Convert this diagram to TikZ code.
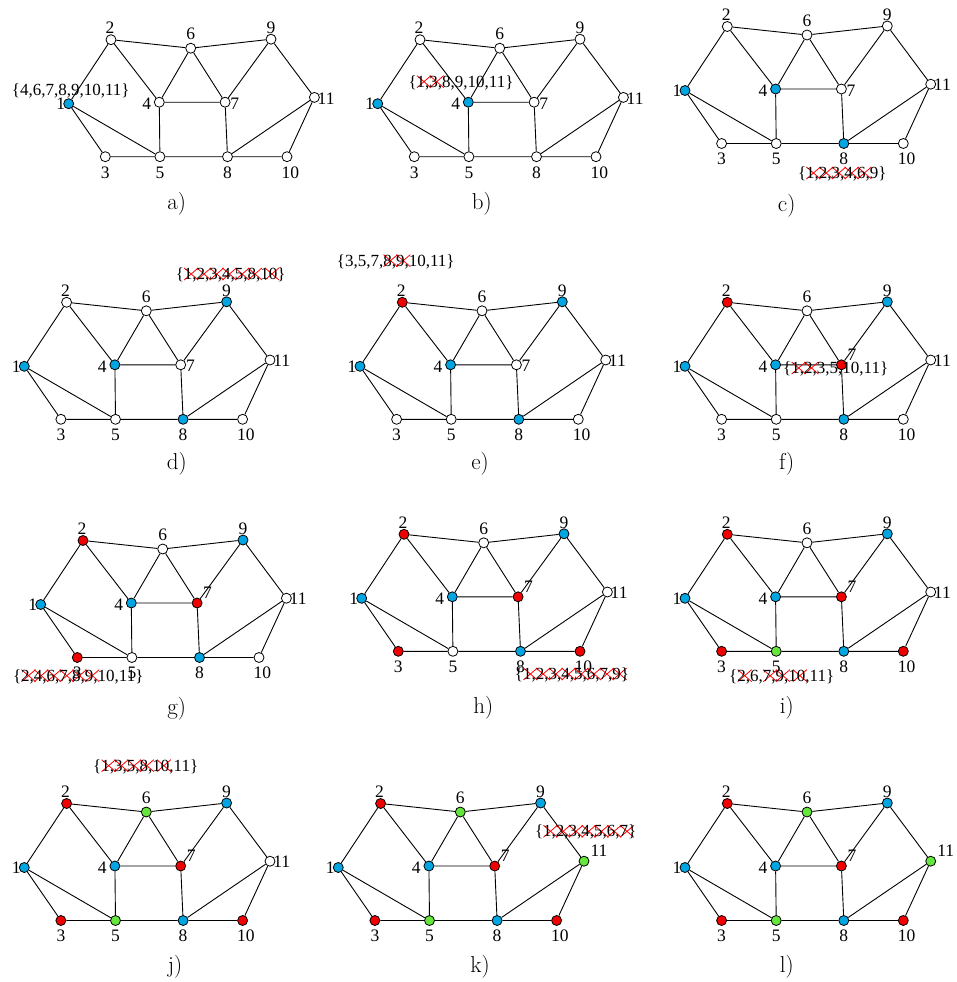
\documentclass[tikz,border=0pt]{standalone}
\usepackage{fontspec}
\newfontfamily\tnr{Liberation Serif}
\definecolor{bl}{RGB}{0,165,225}
\definecolor{rd}{RGB}{240,0,0}
\definecolor{gr}{RGB}{100,230,60}
\newsavebox\xobox
\newlength\xow
\newlength\xoh
\newcommand\xo[1]{\sbox\xobox{#1}\setlength\xow{\wd\xobox}\setlength\xoh{\ht\xobox}%
\rlap{\tikz[baseline=0pt]{\useasboundingbox (0pt,0pt);
\draw[red,line width=0.8pt] (0.5*\xow-4pt,0.5*\xoh-6pt) -- (0.5*\xow+10pt,0.5*\xoh+6pt)
 (0.5*\xow-4pt,0.5*\xoh+6pt) -- (0.5*\xow+10pt,0.5*\xoh-6pt);}}\usebox\xobox}
\newcommand\panel[6]{%
\begin{scope}[shift={(#2,#3)}]
 \foreach \c [count=\i] in {#4} {
   \pgfmathsetmacro\px{{0,42.3,36.6,90.6,91.2,122,156.4,158.8,202.3,218.3,245.7}[\i-1]}
   \pgfmathsetmacro\py{{0,-64,53,-1.5,53,-55.5,-1.5,53,-64.5,53,-6.3}[\i-1]}
   \node[vtx,fill=\c] (#1-\i) at (\px,\py) {};
 }
 \foreach \i/\dx/\dy in {1/-8/0.5,2/-1/-12,3/0/15.7,4/-12.6/1.5,5/0/15.7,6/0/-14.5,8/0/15.7,9/0/-11.5,10/3.3/15.7}
   \node[lab] (#1-l\i) at ([shift={(\dx,\dy)}]#1-\i.center) {\i};
 \node[lab] (#1-l7) at ([shift={(#5)}]#1-7.center) {7};
 \node[lab] (#1-l11) at ([shift={(#6)}]#1-11.center) {11};
 \draw[edgeline] (#1-1) -- (#1-2) (#1-1) -- (#1-3) (#1-1) -- (#1-5) (#1-2) -- (#1-6) (#1-2) -- (#1-4)
   (#1-6) -- (#1-9) (#1-6) -- (#1-4) (#1-6) -- (#1-7) (#1-4) -- (#1-7) (#1-4) -- (#1-5)
   (#1-7) -- (#1-8) (#1-7) -- (#1-9) (#1-9) -- (#1-11) (#1-11) -- (#1-8) (#1-11) -- (#1-10)
   (#1-3) -- (#1-5) (#1-5) -- (#1-8) (#1-8) -- (#1-10);
\end{scope}}
\begin{document}
\begin{tikzpicture}[x=1pt,y=-1pt,
  vtx/.style={circle,draw=black,line width=0.8pt,minimum size=10pt,inner sep=0pt},
  lab/.style={font=\tnr\fontsize{17.5}{17.5}\selectfont,inner sep=0pt},
  edgeline/.style={line width=0.9pt,black},
  setl/.style={font=\tnr\fontsize{17}{17}\selectfont,inner sep=0pt},
  captext/.style={font=\fontsize{23}{23}\selectfont,inner sep=0pt}]
\useasboundingbox (0,0) rectangle (956,982);
\panel{a}{68.7}{103.7}{bl,white,white,white,white,white,white,white,white,white,white}{9.7,1.3}{11.7,1}
\panel{b}{377.7}{103.7}{bl,white,white,bl,white,white,white,white,white,white,white}{9.7,1.3}{11.7,1}
\panel{c}{685}{90.5}{bl,white,white,bl,white,white,white,bl,white,white,white}{9.7,1.3}{11.7,1}
\panel{d}{24.3}{366.3}{bl,white,white,bl,white,white,white,bl,bl,white,white}{9.7,1.3}{11.7,1}
\panel{e}{360}{366.3}{bl,rd,white,bl,white,white,white,bl,bl,white,white}{9.7,1.3}{11.7,1}
\panel{f}{685}{366.3}{bl,rd,white,bl,white,white,rd,bl,bl,white,white}{10.5,-10}{11.7,1}
\panel{g}{40.7}{604.5}{bl,rd,rd,bl,white,white,rd,bl,bl,white,white}{10.5,-10}{11.7,1}
\panel{h}{361.7}{598.3}{bl,rd,rd,bl,white,white,rd,bl,bl,rd,white}{10.5,-10}{11.7,1}
\panel{i}{685}{598.3}{bl,rd,rd,bl,gr,white,rd,bl,bl,rd,white}{10.5,-10}{11.7,1}
\panel{j}{24.3}{867.5}{bl,rd,rd,bl,gr,gr,rd,bl,bl,rd,white}{10.5,-10}{11.7,1}
\panel{k}{338.3}{867.5}{bl,rd,rd,bl,gr,gr,rd,bl,bl,rd,gr}{10.5,-10}{15,-10}
\panel{l}{685}{867.5}{bl,rd,rd,bl,gr,gr,rd,bl,bl,rd,gr}{10.5,-10}{15,-10}
% set labels
\node[setl] (sa) at (70.7,90.7) {\{4,6,7,8,9,10,11\}};
\node[setl] (sb) at (461,82.7) {\{\xo{1},\xo{3},8,9,10,11\}};
\node[setl] (sc) at (842.3,174) {\{\xo{1},\xo{2},\xo{3},\xo{4},\xo{6},9\}};
\node[setl] (sd) at (230.7,275) {\{\xo{1},\xo{2},\xo{3},\xo{4},\xo{5},\xo{8},\xo{10}\}};
\node[setl] (se) at (395.7,261.7) {\{3,5,7,\xo{8},\xo{9},10,11\}};
\node[setl] (sf) at (835.7,369) {\{\xo{1},\xo{2},3,5,10,11\}};
\node[setl] (sg) at (78.3,676.7) {\{\xo{2},\xo{4},\xo{6},\xo{7},\xo{8},\xo{9},10,11\}};
\node[setl] (sh) at (572,675) {\{\xo{1},\xo{2},\xo{3},\xo{4},\xo{5},\xo{6},\xo{7},\xo{9}\}};
\node[setl] (si) at (781.7,676.7) {\{\xo{2},6,\xo{7},\xo{9},\xo{10},11\}};
\node[setl] (sj) at (145.7,766.7) {\{\xo{1},\xo{3},\xo{5},\xo{8},\xo{10},11\}};
\node[setl] (sk) at (585.7,832.3) {\{\xo{1},\xo{2},\xo{3},\xo{4},\xo{5},\xo{6},\xo{7}\}};
% captions
\node[captext] (ca) at (176.7,204) {a)};
\node[captext] (cb) at (481.7,204) {b)};
\node[captext] (cc) at (786.7,206) {c)};
\node[captext] (cd) at (176.7,464) {d)};
\node[captext] (ce) at (480,464) {e)};
\node[captext] (cf) at (786.7,464) {f)};
\node[captext] (cg) at (176.7,709) {g)};
\node[captext] (ch) at (483.3,708) {h)};
\node[captext] (ci) at (786.7,708) {i)};
\node[captext] (cj) at (175,967) {j)};
\node[captext] (ck) at (480,967) {k)};
\node[captext] (cl) at (786.7,967) {l)};
\end{tikzpicture}
\end{document}
